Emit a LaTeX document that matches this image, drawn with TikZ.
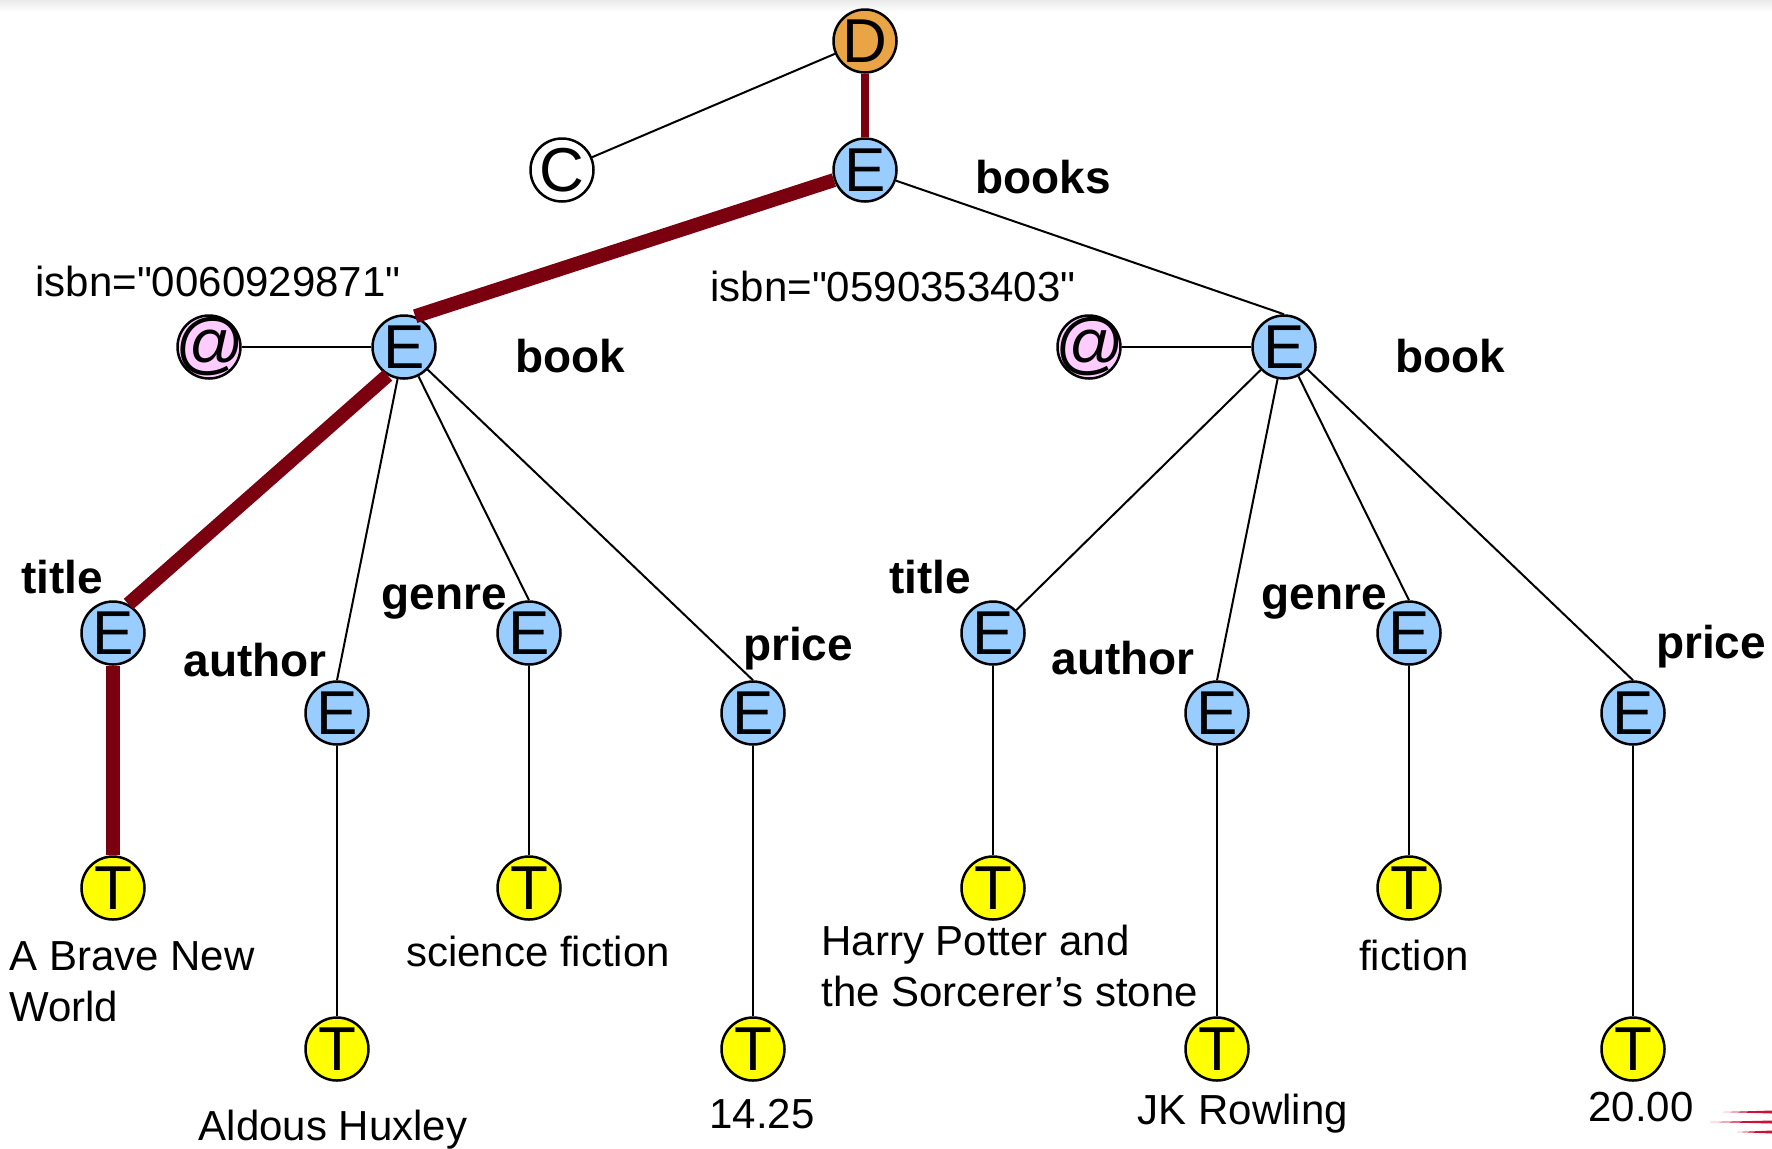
\documentclass[tikz,border=0pt]{standalone}
\usepackage{fontspec}
\setmainfont{Liberation Sans}[Ligatures=TeXOff]
\definecolor{docorange}{HTML}{E8A445}
\definecolor{elemblue}{HTML}{99CCFF}
\definecolor{textyellow}{HTML}{FFFF00}
\definecolor{attrpink}{HTML}{FFCCFF}
\definecolor{pathred}{HTML}{7A0010}
\definecolor{logored}{HTML}{D0103A}
\newcommand{\atsign}{\makebox[0pt]{\fontsize{34}{34}\selectfont\itshape @}}
\begin{document}
\begin{tikzpicture}[x=0.5pt,y=-0.5pt,
  treenode/.style={circle,draw=black,line width=1.25pt,minimum size=31.5pt,inner sep=0pt,
    font=\fontsize{31}{31}\selectfont},
  docnode/.style={treenode,fill=docorange},
  elnode/.style={treenode,fill=elemblue},
  txnode/.style={treenode,fill=textyellow},
  atnode/.style={treenode,fill=attrpink},
  cmnode/.style={treenode,fill=white},
  tag/.style={font=\fontsize{23}{23}\selectfont\bfseries,inner sep=0pt},
  val/.style={font=\fontsize{21}{25.5}\selectfont,inner sep=0pt,align=left},
  link/.style={line width=1pt,black},
  hot/.style={line width=7pt,pathred}]
\useasboundingbox (0,0) rectangle (1772,1148);
\shade[top color=black!8,bottom color=white] (0,0) rectangle (1772,12);

% document, comment and root element
\node[docnode] (D) at (865,41) {D};
\node[cmnode] (C) at (562,170) {C};
\node[elnode] (Eb) at (865,170) {E};
\node[tag,anchor=west] (booksL) at (975,177) {books};

% left book
\node[elnode] (Bl) at (404,347) {E};
\node[atnode] (Al) at (209,347) {\atsign};
\node[val] (isbnL) at (218,281) {isbn="0060929871"};
\node[tag] (bookL) at (570,356) {book};

\node[elnode] (TiL) at (113,633) {E};
\node[elnode] (AuL) at (337,713) {E};
\node[elnode] (GeL) at (529,633) {E};
\node[elnode] (PrL) at (753,713) {E};
\node[tag] (tTiL) at (62,577) {title};
\node[tag] (tAuL) at (255,660) {author};
\node[tag] (tGeL) at (444,602) {genre};
\node[tag] (tPrL) at (798,649) {price};

\node[txnode] (XTiL) at (113,888) {T};
\node[txnode] (XAuL) at (337,1049) {T};
\node[txnode] (XGeL) at (529,888) {T};
\node[txnode] (XPrL) at (753,1049) {T};
\node[val,anchor=west] (vTiL) at (9,982) {A Brave New\\World};
\node[val] (vAuL) at (333,1130) {Aldous Huxley};
\node[val] (vGeL) at (538,951) {science fiction};
\node[val] (vPrL) at (762,1114) {14.25};

% right book
\node[elnode] (Br) at (1284,347) {E};
\node[atnode] (Ar) at (1089,347) {\atsign};
\node[val] (isbnR) at (893,286) {isbn="0590353403"};
\node[tag] (bookR) at (1450,356) {book};

\node[elnode] (TiR) at (993,633) {E};
\node[elnode] (AuR) at (1217,713) {E};
\node[elnode] (GeR) at (1409,633) {E};
\node[elnode] (PrR) at (1633,713) {E};
\node[tag] (tTiR) at (930,577) {title};
\node[tag] (tAuR) at (1123,658) {author};
\node[tag] (tGeR) at (1324,602) {genre};
\node[tag] (tPrR) at (1711,647) {price};

\node[txnode] (XTiR) at (993,888) {T};
\node[txnode] (XAuR) at (1217,1049) {T};
\node[txnode] (XGeR) at (1409,888) {T};
\node[txnode] (XPrR) at (1633,1049) {T};
\node[val,anchor=west] (vTiR) at (821,966) {Harry Potter and\\the Sorcerer’s stone};
\node[val] (vAuR) at (1243,1114) {JK Rowling};
\node[val] (vGeR) at (1414,955) {fiction};
\node[val] (vPrR) at (1641,1107) {20.00};

% connectors
\draw[link] (D) -- (C);
\draw[line width=4pt,pathred] (D) -- (Eb);
\draw[hot] (Eb) -- (Bl.70);
\draw[link] (Eb) -- (Br.north);

\draw[link] (Bl) -- (Al);
\draw[hot] (Bl.240) -- (TiL.62);
\draw[link] (Bl) -- (AuL.north);
\draw[link] (Bl) -- (GeL.north);
\draw[link] (Bl) -- (PrL.north);
\draw[hot] (TiL) -- (XTiL);
\draw[link] (AuL) -- (XAuL);
\draw[link] (GeL) -- (XGeL);
\draw[link] (PrL) -- (XPrL);

\draw[link] (Br) -- (Ar);
\draw[link] (Br) -- (TiR);
\draw[link] (Br) -- (AuR.north);
\draw[link] (Br) -- (GeR.north);
\draw[link] (Br) -- (PrR.north);
\draw[link] (TiR) -- (XTiR);
\draw[link] (AuR) -- (XAuR);
\draw[link] (GeR) -- (XGeR);
\draw[link] (PrR) -- (XPrR);

% streaks of the corner logo
\fill[logored] (1723,1112) -- (1772,1110.5) -- (1772,1113.5) -- cycle;
\fill[logored] (1710,1122) -- (1772,1120.5) -- (1772,1123.5) -- cycle;
\fill[logored] (1737,1132) -- (1772,1130.5) -- (1772,1133.5) -- cycle;
\end{tikzpicture}
\end{document}
